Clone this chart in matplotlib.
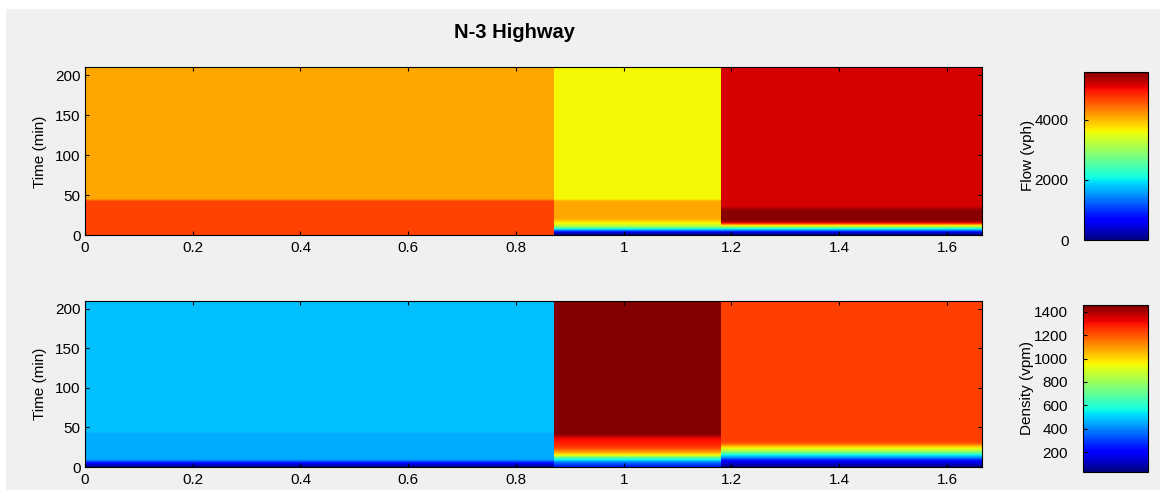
import numpy as np
import matplotlib
matplotlib.use("Agg")
import matplotlib.pyplot as plt
from matplotlib.patches import Rectangle

plt.rcParams['font.family'] = ['Liberation Sans', 'DejaVu Sans']

# ---------------- data ----------------
title = "N-3 Highway"
segment_edges = [0.0, 0.87, 1.18, 1.665]          # position of segment boundaries
time_step = 3                                      # minutes between samples
n_samples = 71                                     # samples t = 0, 3, ..., 210
# first 17 samples (t = 0 .. 48 min) read from the picture, then a steady value
flow_seg1_early = [4700, 4700, 4700, 4700, 4700, 4700, 4700, 4700, 4700,
                   4700, 4700, 4700, 4700, 4700, 4700, 4100, 4100]
flow_seg1_steady = 4100
flow_seg2_early = [0, 400, 1500, 2600, 3300, 3620, 3900, 4100, 4100,
                   4100, 4100, 4100, 4100, 4100, 4100, 3620, 3620]
flow_seg2_steady = 3620
flow_seg3_early = [0, 400, 1500, 2600, 3800, 5000, 5540, 5540, 5540,
                   5540, 5540, 5400, 5180, 5180, 5180, 5180, 5180]
flow_seg3_steady = 5180

dens_seg1_early = [50, 130, 260, 430, 456, 456, 456, 456, 456,
                   456, 456, 456, 456, 456, 456, 484, 484]
dens_seg1_steady = 484
dens_seg2_early = [240, 300, 380, 540, 700, 940, 1060, 1150, 1220,
                   1260, 1280, 1300, 1320, 1400, 1450, 1450, 1450]
dens_seg2_steady = 1450
dens_seg3_early = [50, 100, 170, 260, 420, 546, 720, 850, 960,
                   1080, 1200, 1233, 1233, 1233, 1233, 1233, 1233]
dens_seg3_steady = 1233

flow_clim = [0, 5600]
dens_clim = [34, 1457]
flow_ticks = [0, 2000, 4000]
dens_ticks = [200, 400, 600, 800, 1000, 1200, 1400]
x_ticks = [0, 0.2, 0.4, 0.6, 0.8, 1.0, 1.2, 1.4, 1.6]
x_tick_labels = ['0', '0.2', '0.4', '0.6', '0.8', '1', '1.2', '1.4', '1.6']
y_ticks = [0, 50, 100, 150, 200]


def full(early, steady):
    return list(early) + [steady] * (n_samples - len(early))


flow_cols = [full(flow_seg1_early, flow_seg1_steady),
             full(flow_seg2_early, flow_seg2_steady),
             full(flow_seg3_early, flow_seg3_steady)]
dens_cols = [full(dens_seg1_early, dens_seg1_steady),
             full(dens_seg2_early, dens_seg2_steady),
             full(dens_seg3_early, dens_seg3_steady)]

# ---------------- figure ----------------
W, H = 1167, 490
fig = plt.figure(figsize=(W / 100, H / 100), dpi=100)
fig.patch.set_facecolor('white')
fig.add_artist(Rectangle((6 / W, 0), (1160 - 6) / W, (H - 9) / H,
                         transform=fig.transFigure, facecolor='#f0f0f0',
                         edgecolor='none', zorder=-10))


def px_rect(left, top, right, bottom):
    return [left / W, 1 - bottom / H, (right - left) / W, (bottom - top) / H]


ax1 = fig.add_axes(px_rect(85, 67.5, 982, 235.5))
ax2 = fig.add_axes(px_rect(85, 301, 982, 467))
cax1 = fig.add_axes(px_rect(1084, 71.7, 1148, 240))
cax2 = fig.add_axes(px_rect(1083, 305, 1148, 471.7))

t_max = (n_samples - 1) * time_step
cmap = plt.get_cmap('jet')


def draw(ax, cols, clim):
    im = None
    for i, col in enumerate(cols):
        arr = np.array(col, dtype=float).reshape(-1, 1)
        im = ax.imshow(arr, origin='lower', aspect='auto', cmap=cmap,
                       vmin=clim[0], vmax=clim[1],
                       extent=(segment_edges[i], segment_edges[i + 1],
                               -time_step / 2, t_max + time_step / 2),
                       interpolation='bilinear', interpolation_stage='data')
    ax.set_xlim(segment_edges[0], segment_edges[-1])
    ax.set_ylim(0, t_max)
    ax.set_xticks(x_ticks)
    ax.set_xticklabels(x_tick_labels)
    ax.set_yticks(y_ticks)
    ax.set_ylabel('Time (min)', fontsize=11, labelpad=6)
    ax.tick_params(direction='in', length=3, labelsize=11, top=True, right=True)
    ax.tick_params(axis='x', pad=4)
    ax.tick_params(axis='y', pad=3)
    for s in ax.spines.values():
        s.set_linewidth(0.8)
        s.set_color('black')
    return im


im1 = draw(ax1, flow_cols, flow_clim)
im2 = draw(ax2, dens_cols, dens_clim)

for cax, im, ticks, label in [(cax1, im1, flow_ticks, 'Flow (vph)'),
                              (cax2, im2, dens_ticks, 'Density (vpm)')]:
    cb = fig.colorbar(im, cax=cax)
    cb.set_ticks(ticks)
    cax.yaxis.set_ticks_position('left')
    cax.yaxis.set_label_position('left')
    cax.tick_params(direction='in', length=3, labelsize=11, pad=11)
    cb.set_label(label, fontsize=11, labelpad=0)
    cb.outline.set_linewidth(0.8)

fig.text(514 / W, 1 - 32.5 / H, title, ha='center', va='center',
         fontsize=14.5, fontweight='bold')

fig.savefig('out.png', dpi=100)
